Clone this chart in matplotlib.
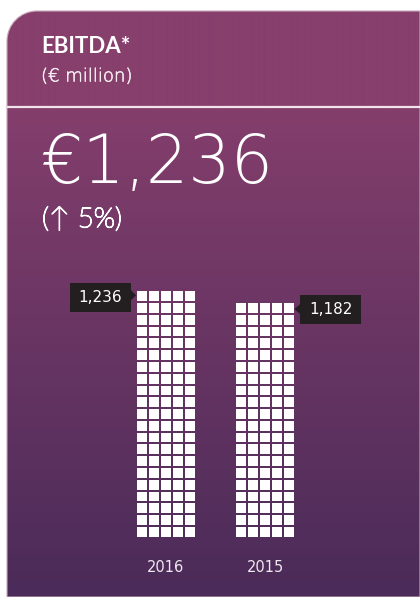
import numpy as np
import matplotlib
matplotlib.use("Agg")
import matplotlib.pyplot as plt
import matplotlib.patheffects as pe
from matplotlib.path import Path
from matplotlib.patches import PathPatch, Rectangle, Polygon
from matplotlib.colors import to_rgb

# ---- data ----
title = "EBITDA*"
unit_label = "(€ million)"
headline = "€1,236"
change_label = "(↑ 5%)"
years = ["2016", "2015"]
values = [1236, 1182]
value_labels = ["1,236", "1,182"]
per_cell = 12          # € million represented by one square
cols = 5               # squares per row

W, H = 420, 597
fig = plt.figure(figsize=(W / 100, H / 100), dpi=100)
fig.patch.set_facecolor("white")
ax = fig.add_axes([0, 0, 1, 1])
ax.set_xlim(0, W)
ax.set_ylim(H, 0)
ax.axis("off")

# ---- panel with rounded top-left corner ----
L, T, R = 7, 11, 30
k = 0.5523 * R
verts = [(L, H), (L, T + R), (L, T + R - k), (L + R - k, T), (L + R, T), (W, T), (W, H), (L, H)]
codes = [Path.MOVETO, Path.LINETO, Path.CURVE4, Path.CURVE4, Path.CURVE4, Path.LINETO, Path.LINETO, Path.CLOSEPOLY]
panel = PathPatch(Path(verts, codes), facecolor="none", edgecolor="#c9aabd", lw=0.8, zorder=1)
ax.add_patch(panel)

head = np.array(to_rgb("#873f6c"))
top = np.array(to_rgb("#843e6c"))
bot = np.array(to_rgb("#4a2b59"))
rows = np.arange(H)
t = np.clip((rows - 108) / (H - 108), 0, 1)[:, None]
col = top * (1 - t) + bot * t
col[rows < 107] = head
img = np.repeat(col[:, None, :], 2, axis=1)
im = ax.imshow(img, extent=(0, W, H, 0), aspect="auto", zorder=0, interpolation="bilinear")
im.set_clip_path(panel)

ax.plot([L, W], [107, 107], color="#f1e3ec", lw=1.6, zorder=2, solid_capstyle="butt")

# ---- texts ----
thin = [pe.withStroke(linewidth=0.9, foreground="white")]
ax.text(41, 53.3, title, family=["Lato", "DejaVu Sans"], fontweight="bold", fontsize=16,
        color="white", va="baseline", ha="left")
ax.text(41, 81.5, unit_label, family=["DejaVu Sans"], fontweight=200, fontsize=13,
        color="#f6eef3", va="baseline", ha="left",
        path_effects=[pe.withStroke(linewidth=0.35, foreground="#f6eef3")])
ax.text(40, 183.3, headline, family=["DejaVu Sans"], fontweight=200, fontsize=48,
        color="white", va="baseline", ha="left")
ax.text(42, 227.3, change_label, family=["Lato", "DejaVu Sans"], fontweight="light", fontsize=20,
        color="white", va="baseline", ha="left", path_effects=thin)

# ---- waffle bars (axes in cell units) ----
px_x, px_y = 12.0, 11.78          # pixel pitch of one square
row0 = 536.7                      # pixel bottom of first row
ax2 = fig.add_axes([0, 0, 1, 1])
ax2.set_xlim(0, W / px_x)
ax2.set_ylim((row0 - H) / px_y, row0 / px_y)
ax2.axis("off")

starts_px = [136.7, 236.3]
cw, ch = 10 / px_x, 9.8 / px_y
for i, (v, yr, lab) in enumerate(zip(values, years, value_labels)):
    nrows = int(round(v / (per_cell * cols)))
    x0 = starts_px[i] / px_x
    xs = x0 + np.arange(cols)
    for r in range(nrows):
        ax2.bar(xs, ch, width=cw, bottom=r, align="edge", color="white", lw=0, zorder=3)
    # label under bar
    xc = x0 + (cols - 1 + cw) / 2
    ax2.text(xc, (row0 - 567) / px_y, yr, ha="center", va="center", fontsize=10.5,
             color="#f0e8ef", family="DejaVu Sans", zorder=4)
    # value callout
    top_px = row0 - ((nrows - 1) * px_y + ch * px_y)
    cy = top_px + 6
    bh, bw = 29, 61
    if i == 0:
        bx1 = starts_px[i] - 5.7
        bx0 = bx1 - bw
        tri = [(bx1, cy - 7), (bx1 + 5, cy - 2), (bx1, cy + 3)]
    else:
        bx0 = starts_px[i] + (cols - 1 + cw) * px_x + 6
        bx1 = bx0 + bw
        tri = [(bx0, cy - 5), (bx0 - 6, cy), (bx0, cy + 5)]
    ax.add_patch(Rectangle((bx0, cy - bh / 2), bw, bh, facecolor="#231f20", lw=0, zorder=5))
    ax.add_patch(Polygon(tri, closed=True, facecolor="#231f20", lw=0, zorder=5))
    ax.text((bx0 + bx1) / 2, cy, lab, ha="center", va="center", fontsize=11,
            color="white", family="DejaVu Sans", zorder=6)

fig.savefig("out.png", dpi=100, facecolor="white")
